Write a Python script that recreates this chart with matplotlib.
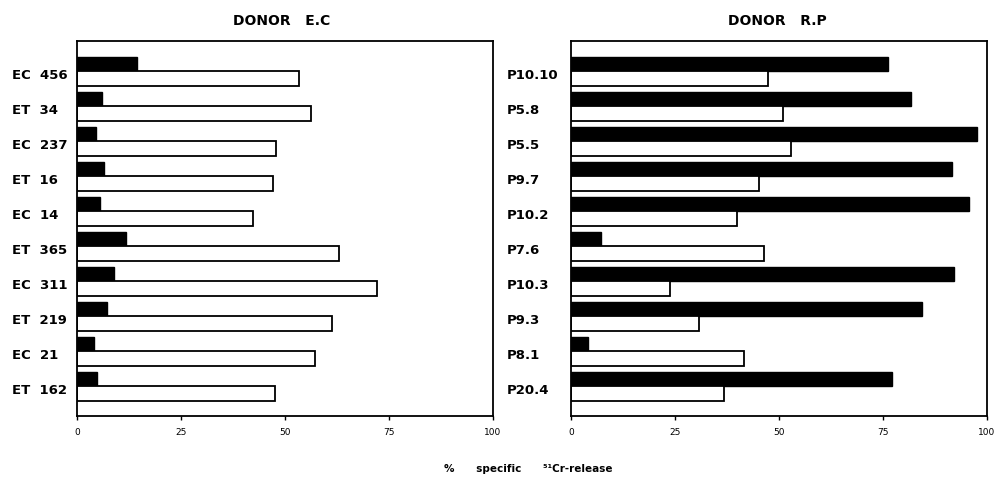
import numpy as np
import matplotlib
matplotlib.use('Agg')
import matplotlib.pyplot as plt

# Данные: донор E.C
ec_labels = ['EC  456', 'ET  34', 'EC  237', 'ET  16', 'EC  14',
             'ET  365', 'EC  311', 'ET  219', 'EC  21', 'ET  162']
ec_black = [14.3, 6.1, 4.6, 6.5, 5.4, 11.8, 9.0, 7.3, 4.1, 4.7]
ec_white = [53.4, 56.2, 47.8, 47.2, 42.2, 62.9, 72.2, 61.4, 57.2, 47.7]

# Данные: донор R.P
rp_labels = ['P10.10', 'P5.8', 'P5.5', 'P9.7', 'P10.2',
             'P7.6', 'P10.3', 'P9.3', 'P8.1', 'P20.4']
rp_black = [76.3, 81.7, 97.6, 91.5, 95.7, 7.2, 92.1, 84.3, 4.0, 77.3]
rp_white = [47.4, 51.0, 52.9, 45.1, 39.9, 46.3, 23.9, 30.7, 41.6, 36.9]

xticks = [0, 25, 50, 75, 100]

BAR_H = 0.414


def draw_panel(ax, labels, black, white, label_dx):
    idx = np.arange(len(labels))
    ax.barh(idx - BAR_H, black, height=BAR_H, align='edge',
            color='black', edgecolor='black', linewidth=1.0)
    ax.barh(idx, white, height=BAR_H, align='edge',
            color='white', edgecolor='black', linewidth=1.3)
    ax.set_xlim(0, 100)
    ax.set_ylim(len(labels) - 1 + 0.857, -0.857)
    ax.set_xticks(xticks)
    ax.set_xticklabels([str(t) for t in xticks], fontsize=6.5)
    ax.tick_params(axis='x', direction='out', length=3, width=1, pad=5)
    ax.set_yticks([])
    for s in ax.spines.values():
        s.set_linewidth(1.3)
    # подписи клонов слева
    for i, lab in enumerate(labels):
        ax.annotate(lab, xy=(0, i), xycoords=('axes fraction', 'data'),
                    xytext=(label_dx, -3), textcoords='offset pixels',
                    ha='left', va='center', fontsize=9.5, fontweight='bold')


fig = plt.figure(figsize=(9.98, 4.81), dpi=100)
ax1 = fig.add_axes([0.0772, 0.133, 0.4168, 0.7796])
ax2 = fig.add_axes([0.5721, 0.133, 0.4168, 0.7796])

draw_panel(ax1, ec_labels, ec_black, ec_white, -65)
draw_panel(ax2, rp_labels, rp_black, rp_white, -64)

fig.text(282 / 998, 1 - 21 / 481, 'DONOR   E.C', ha='center', va='center',
         fontsize=10, fontweight='bold')
fig.text(777 / 998, 1 - 21 / 481, 'DONOR   R.P', ha='center', va='center',
         fontsize=10, fontweight='bold')

fig.text(528 / 998, 1 - 469 / 481, '%      specific      \u2075\u00b9Cr-release',
         ha='center', va='center', fontsize=7.5, fontweight='bold')

fig.savefig('out.png', dpi=100)
